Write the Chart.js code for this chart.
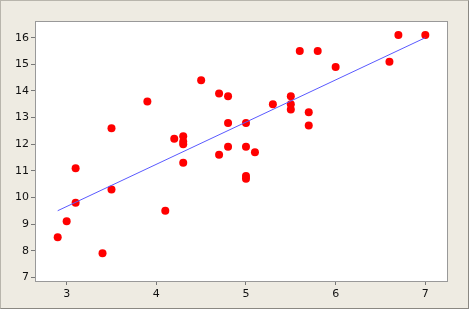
<!DOCTYPE html>
<html>
<head>
<meta charset="utf-8">
<script src="https://cdn.jsdelivr.net/npm/chart.js@4"></script>
<style>
  html, body { margin: 0; padding: 0; background: #ffffff; }
  #frame {
    width: 469px; height: 309px; box-sizing: border-box;
    border-top: 1px solid #b8b5ac; border-left: 1px solid #b8b5ac;
    border-right: 1px solid #8a8882; border-bottom: 1px solid #8a8882;
    background: #eeebe2;
  }
</style>
</head>
<body>
<div id="frame"><canvas id="myScatter" width="467" height="307"></canvas></div>
<script>
// Dữ liệu các điểm (x, y)
const xValues = [2.9, 3.0, 3.1, 3.1, 3.4, 3.5, 3.5, 3.9, 4.1, 4.2, 4.3, 4.3, 4.3, 4.3, 4.5, 4.7, 4.7, 4.8, 4.8, 4.8,
                 5.0, 5.0, 5.0, 5.0, 5.1, 5.3, 5.5, 5.5, 5.5, 5.6, 5.7, 5.7, 5.8, 6.0, 6.6, 6.7, 7.0];
const yValues = [8.5, 9.1, 9.8, 11.1, 7.9, 10.3, 12.6, 13.6, 9.5, 12.2, 12.3, 12.1, 12.0, 11.3, 14.4, 13.9, 11.6, 13.8, 12.8, 11.9,
                 12.8, 11.9, 10.8, 10.7, 11.7, 13.5, 13.8, 13.5, 13.3, 15.5, 13.2, 12.7, 15.5, 14.9, 15.1, 16.1, 16.1];

// Đường hồi quy (hai đầu mút)
const fitX = [2.9, 7.0];
const fitY = [9.5, 16.0];

// Nhãn trục
const xTicks = [3, 4, 5, 6, 7];
const yTicks = [7, 8, 9, 10, 11, 12, 13, 14, 15, 16];

const plotFrame = {
    id: 'plotFrame',
    beforeDatasetsDraw(chart) {
        const a = chart.chartArea, ctx = chart.ctx;
        ctx.save();
        ctx.fillStyle = '#ffffff';
        ctx.fillRect(a.left, a.top, a.right - a.left, a.bottom - a.top);
        ctx.restore();
    },
    afterDatasetsDraw(chart) {
        const a = chart.chartArea, ctx = chart.ctx;
        ctx.save();
        ctx.strokeStyle = '#999999';
        ctx.lineWidth = 1;
        ctx.strokeRect(a.left - 0.5, a.top - 0.5, a.right - a.left + 1, a.bottom - a.top + 1);
        ctx.restore();
    }
};

document.addEventListener('DOMContentLoaded', function () {
    var ctx = document.getElementById('myScatter').getContext('2d');
    var tickFont = { family: 'DejaVu Sans', size: 11 };
    new Chart(ctx, {
        type: 'scatter',
        data: {
            datasets: [{
                label: 'Fit',
                data: fitX.map((x, i) => ({ x: x, y: fitY[i] })),
                showLine: true,
                borderColor: '#5a5aff',
                borderWidth: 1,
                pointRadius: 0
            }, {
                label: 'Data',
                data: xValues.map((x, i) => ({ x: x, y: yValues[i] })),
                backgroundColor: '#ff0000',
                borderColor: '#ff0000',
                pointRadius: 4,
                pointBorderWidth: 0
            }]
        },
        options: {
            responsive: false,
            animation: false,
            layout: { padding: { left: 0, top: 21, right: 21, bottom: 0 } },
            plugins: { legend: { display: false }, tooltip: { enabled: false } },
            scales: {
                x: {
                    type: 'linear',
                    min: 2.658,
                    max: 7.242,
                    afterBuildTicks: s => { s.ticks = xTicks.map(v => ({ value: v })); },
                    afterFit: s => { s.height = 27; },
                    border: { display: false },
                    grid: { drawOnChartArea: false, tickLength: 4, color: '#777777' },
                    ticks: { color: '#111111', font: tickFont, padding: 3, maxRotation: 0 }
                },
                y: {
                    type: 'linear',
                    min: 6.86,
                    max: 16.59,
                    afterBuildTicks: s => { s.ticks = yTicks.map(v => ({ value: v })); },
                    afterFit: s => { s.width = 35; },
                    border: { display: false },
                    grid: { drawOnChartArea: false, tickLength: 5, color: '#777777' },
                    ticks: { color: '#111111', font: tickFont, padding: 2 }
                }
            }
        },
        plugins: [plotFrame]
    });
});
</script>
</body>
</html>
